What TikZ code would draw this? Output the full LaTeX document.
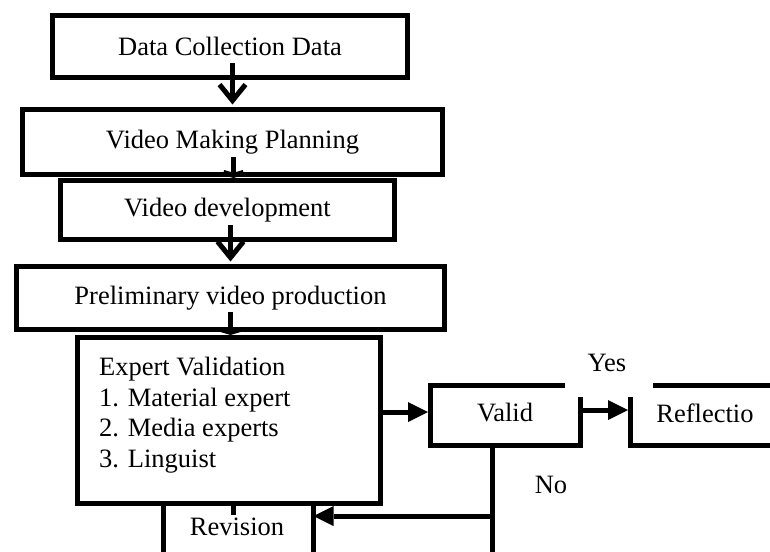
\documentclass[tikz,border=0pt]{standalone}
\usepackage{fontspec}
\setmainfont{Liberation Serif}
\usetikzlibrary{arrows.meta}
\begin{document}
\begin{tikzpicture}[x=1pt,y=-1pt,
  box/.style={draw, line width=5pt, inner sep=0pt, font=\fontsize{26.5}{30.5}\selectfont},
  txt/.style={inner sep=0pt, font=\fontsize{26.5}{30.5}\selectfont},
  edge/.style={line width=5pt},
  vhead/.style={-{Straight Barb[length=16pt,width=26pt]}, shorten >=2.5pt},
  shorthead/.style={-{Straight Barb[length=3pt,width=20pt]}},
  thead/.style={-{Triangle[length=20pt,width=20pt,line width=0pt]}},
]
\useasboundingbox (0,0) rectangle (770,551);

% boxes
\node[box, minimum width=355pt, minimum height=62pt] (b1) at (230,46.5) {Data Collection Data};
\node[box, minimum width=420pt, minimum height=65pt] (b2) at (232.5,142) {Video Making Planning};
\node[box, minimum width=334pt, minimum height=59pt] (b3) at (227.5,210) {Video development};
\node[box, minimum width=428pt, minimum height=63pt] (b4) at (230.5,298) {Preliminary video production};
\node[box, minimum width=302.5pt, minimum height=165.5pt] (b5) at (228.75,420.25) {};
\node[txt, align=left, anchor=north west] (b5t) at (99,357) {Expert Validation\\1. Material expert\\2. Media experts\\3. Linguist};

% open boxes
\draw[edge] (565,385.5) -- (430.5,385.5) -- (430.5,445) -- (580.5,445) -- (580.5,397);
\node[txt] (valid) at (505,413) {Valid};
\draw[edge] (653,385.5) -- (772,385.5);
\draw[edge] (630.5,397) -- (630.5,445) -- (772,445);
\node[txt] (refl) at (705,413) {Reflectio};
\draw[edge] (163,503) -- (163,555);
\draw[edge] (313,503) -- (313,555);
\node[txt] (rev) at (237,527) {Revision};
\node[txt] (yes) at (607,363) {Yes};
\node[txt] (no) at (551,485) {No};

% coordinates
\coordinate (a1s) at (232.5,63);
\coordinate (a2s) at (233.5,157);
\coordinate (a3s) at (230.5,225);
\coordinate (a4s) at (230.5,312);
\coordinate (vL) at (430.5,412);
\coordinate (vR) at (580.5,410);
\coordinate (rL) at (630.5,410);
\coordinate (vB) at (492.5,445);
\coordinate (vBot) at (492.5,555);
\coordinate (j) at (492.5,516);
\coordinate (revR) at (313.5,516);
\coordinate (stub) at (233,515);

% connectors
\draw[edge,vhead] (a1s) -- (a1s |- b2.north);
\draw[edge,shorthead] (a2s) -- (a2s |- b3.north);
\draw[edge,vhead] (a3s) -- (a3s |- b4.north);
\draw[edge,shorthead] (a4s) -- (a4s |- b5.north);
\draw[edge,thead,shorten >=2.5pt] (b5.east |- vL) -- (vL);
\draw[edge,thead,shorten >=2.5pt] (vR) -- (rL);
\draw[edge] (vB) -- (vBot);
\draw[edge,thead] (j) -- (revR);
\draw[edge] (b5.south -| stub) -- (stub);
\end{tikzpicture}
\end{document}
